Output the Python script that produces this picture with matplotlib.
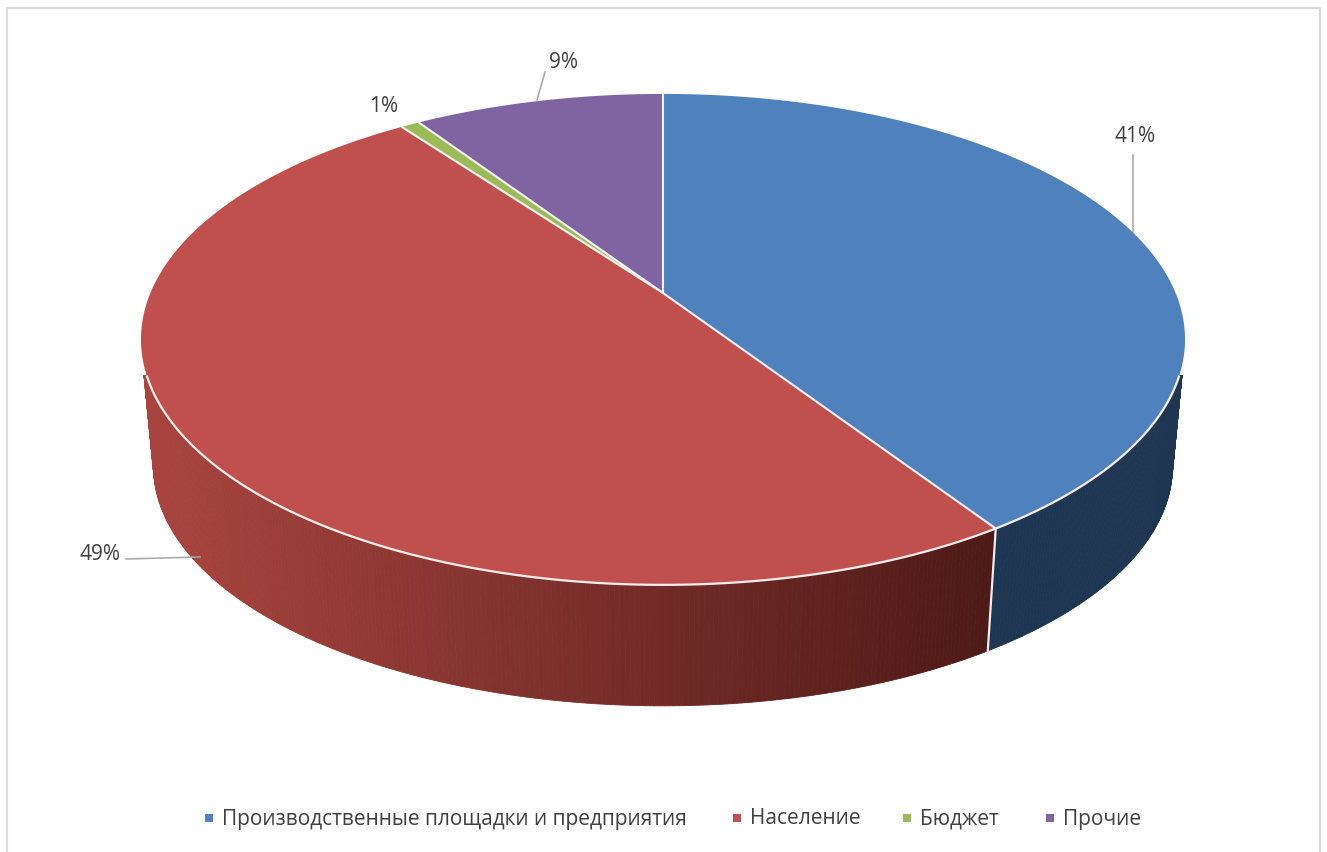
import numpy as np
import matplotlib
matplotlib.use("Agg")
import matplotlib.pyplot as plt
from matplotlib.colors import to_rgb
from matplotlib.patches import Polygon, Rectangle

# Datos
categorias = ["Производственные площадки и предприятия", "Население", "Бюджет", "Прочие"]
valores = [40.8, 49.2, 0.7, 9.3]
etiquetas = ["41%", "49%", "1%", "9%"]

colores = ["#4F81BD", "#C0504D", "#9BBB59", "#8064A2"]
# color de la pared lateral: izquierda y derecha
pared = [("#1C3350", "#1E3652"), ("#A8443F", "#4E1A17"), ("#6B8239", "#6B8239"), ("#58456F", "#58456F")]

TEXTO = "#404040"
CORTE_PARED = 375  # la pared empieza a esta altura
plt.rcParams['font.family'] = ['Open Sans', 'DejaVu Sans']

fig = plt.figure(figsize=(13.27, 8.52), dpi=100)
ax = fig.add_axes([0, 0, 1, 1])
ax.set_xlim(0, 1327)
ax.set_ylim(852, 0)
ax.axis("off")

# Marco gris, abierto abajo
ax.plot([7, 7, 1320, 1320], [852, 8, 8, 852], color="#D9D9D9", lw=1.5)


# Proyección en perspectiva del disco (t en radianes, horario desde arriba)
P = 0.189
def proyectar(t, r=1.0, cx=663.0, cy=293.0, A=512.6, B=236.7):
    u, v = r * np.sin(t), r * np.cos(t)
    w = 1 + P * v
    return cx + A * u / w, cy - B * v / w


def arriba(t, r=1.0):
    return proyectar(t, r)


def abajo(t):
    return proyectar(t, 1.0, cx=663.0, cy=421.0, A=500.3, B=231.0)


limites = np.cumsum([0] + valores) / sum(valores) * 2 * np.pi
recorte = Rectangle((0, CORTE_PARED), 1327, 852 - CORTE_PARED, transform=ax.transData)

# Paredes laterales por tiras, con degradado según x
for i in range(len(valores)):
    ts = np.linspace(limites[i], limites[i + 1], max(int(valores[i] * 8), 4))
    c0, c1 = np.array(to_rgb(pared[i][0])), np.array(to_rgb(pared[i][1]))
    for a, b in zip(ts[:-1], ts[1:]):
        xa, ya = arriba(a)
        xb, yb = arriba(b)
        xc, yc = abajo(b)
        xd, yd = abajo(a)
        f = np.clip((0.5 * (xa + xb) - 150) / 840, 0, 1)
        col = c0 + (c1 - c0) * f
        tira = Polygon([(xa, ya), (xb, yb), (xc, yc), (xd, yd)], closed=True,
                       facecolor=col, edgecolor=col, lw=0.6, zorder=2)
        ax.add_patch(tira)
        tira.set_clip_path(recorte)

# Separación blanca entre azul y rojo en la pared
x0, y0 = arriba(limites[1])
x1, y1 = abajo(limites[1])
ax.plot([x0, x1], [y0, y1], color="#F4ECEC", lw=1.6, zorder=3)

# Cara superior
for i in range(len(valores)):
    ts = np.linspace(limites[i], limites[i + 1], max(int(valores[i] * 8), 4))
    xs, ys = arriba(ts)
    cx, cy = arriba(0.0, 0.0)
    puntos = [(cx, cy)] + list(zip(xs, ys))
    ax.add_patch(Polygon(puntos, closed=True, facecolor=colores[i], edgecolor="none", zorder=4))

# Bordes claros de los sectores
for t in limites[:-1]:
    x, y = arriba(t)
    cx, cy = arriba(0.0, 0.0)
    ax.plot([cx, x], [cy, y], color="#F2F2F2", lw=1.5, zorder=5, solid_capstyle="butt")

# Borde claro delantero de la cara superior
ts = np.linspace(np.radians(60), np.radians(300), 400)
xs, ys = arriba(ts)
ax.plot(xs[ys >= CORTE_PARED], ys[ys >= CORTE_PARED], color="#F7EDED", lw=1.6, zorder=5)

# Líneas guía
guias = [((1133, 155), (1133, 232)), ((126, 559), (200, 557)), ((545, 72), (537, 100))]
for p, q in guias:
    ax.plot([p[0], q[0]], [p[1], q[1]], color="#A6A6A6", lw=1.1, zorder=3)

# Etiquetas de porcentaje
pos_etiquetas = [(1135, 137), (100, 555), (384, 106), (563, 63)]
for txt, (x, y) in zip(etiquetas, pos_etiquetas):
    ax.text(x, y, txt, fontsize=15, color=TEXTO, ha="center", va="center", zorder=6)

# Leyenda
pos_marca = [209, 737, 907, 1050]
for nombre, col, x in zip(categorias, colores, pos_marca):
    ax.add_patch(Rectangle((x - 4, 814), 8, 8, facecolor=col, edgecolor="none"))
    ax.text(x + 13, 819, nombre, fontsize=15, color=TEXTO, ha="left", va="center")

fig.savefig("out.png", dpi=100, facecolor="white")
